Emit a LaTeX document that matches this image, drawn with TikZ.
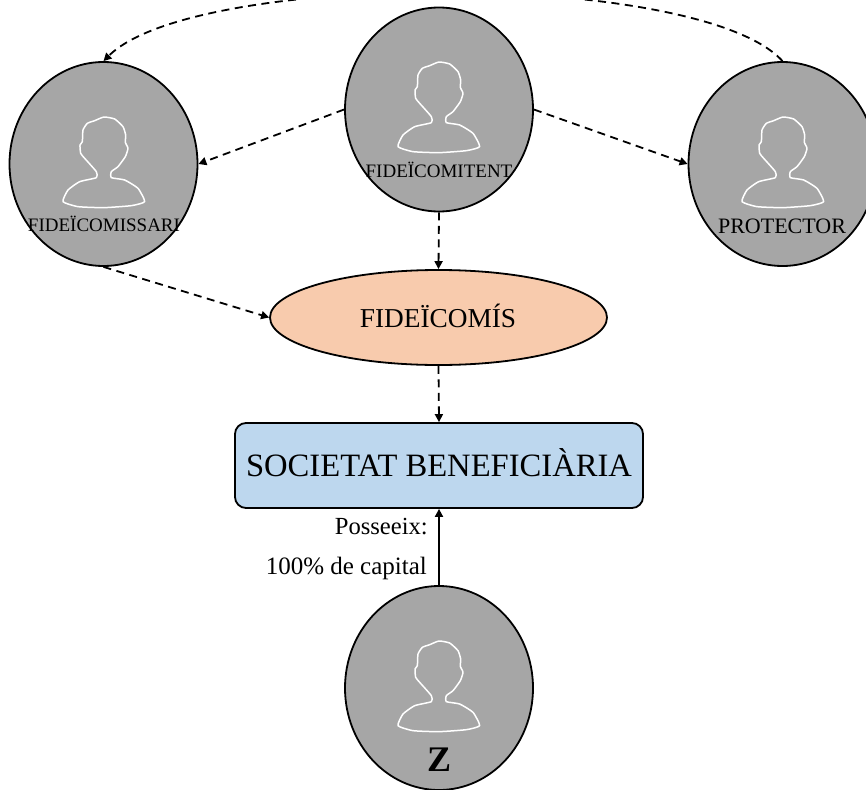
\documentclass[tikz,border=0pt]{standalone}
\usepackage{fontspec}
\setmainfont{Liberation Serif}
\usetikzlibrary{shapes.geometric,arrows.meta}
\definecolor{persongray}{HTML}{A6A6A6}
\definecolor{trustorange}{HTML}{F8CBAD}
\definecolor{boxblue}{HTML}{BDD7EE}
\tikzset{
  x=1pt,y=-1pt,
  personcircle/.style={ellipse,draw=black,line width=1.8pt,fill=persongray,minimum width=188pt,minimum height=204pt,inner sep=0pt},
  trustshape/.style={ellipse,draw=black,line width=1.8pt,fill=trustorange,minimum width=337pt,minimum height=95pt,inner sep=0pt},
  companybox/.style={rectangle,rounded corners=11pt,draw=black,line width=1.8pt,fill=boxblue,minimum width=408pt,minimum height=85pt,inner sep=0pt},
  dashlink/.style={-{Triangle[length=8pt,width=8pt]},line width=1.8pt,dash pattern=on 8pt off 5.5pt},
  solidlink/.style={-{Triangle[length=8pt,width=8pt]},line width=1.8pt},
  personlabel/.style={inner sep=0pt,text=black},
  pics/personicon/.style={code={
    \draw[white,line width=1.5pt,line join=round,x=0.3333pt,y=-0.3333pt]
      plot[smooth cycle,tension=.3] coordinates {(-23,182)(-23,164)(-58,124)(-70,109)(-72,84)(-65,74)(-63,39)(-50,19)(-28,11)(0,0)(32,6)(57,29)(65,54)(64,76)(72,94)(64,119)(42,149)(22,164)(22,182)(62,189)(102,214)(122,254)(82,266)(0,272)(-78,269)(-123,254)(-108,219)(-73,194)};
  }}
}
\begin{document}
\begin{tikzpicture}
\useasboundingbox (0,0) rectangle (866,789);
\clip (0,0) rectangle (866,789);
\node[personcircle] (settlor) at (439,109.5) {};
\node[personcircle] (benef) at (103.5,164) {};
\node[personcircle] (protector) at (782.5,164) {};
\node[personcircle] (owner) at (439,688) {};
\node[trustshape] (trust) at (438.5,317.5) {};
\node[companybox] (company) at (439,465.5) {};
\pic at (439,62) {personicon};
\pic at (104,117) {personicon};
\pic at (783,117) {personicon};
\pic at (439,641) {personicon};
\node[personlabel,font=\fontsize{19}{19}\selectfont] (settlorlabel) at (439,170) {FIDEÏCOMITENT};
\node[personlabel,font=\fontsize{19}{19}\selectfont] (beneflabel) at (104,224) {FIDEÏCOMISSARI};
\node[personlabel,font=\fontsize{22}{22}\selectfont] (protectorlabel) at (782,226) {PROTECTOR};
\node[personlabel,font=\fontsize{36}{36}\selectfont\bfseries] (ownerlabel) at (439,760) {Z};
\node[personlabel,font=\fontsize{27.3}{27}\selectfont] (trustlabel) at (438,316) {FIDEÏCOMÍS};
\node[personlabel,font=\fontsize{32.6}{33}\selectfont] (companylabel) at (439,463) {SOCIETAT BENEFICIÀRIA};
\node[personlabel,anchor=east,font=\fontsize{24.6}{25}\selectfont] (holds) at (428,527) {Posseeix:};
\node[personlabel,anchor=east,font=\fontsize{25}{25}\selectfont] (capital) at (427,568) {100\% de capital};
\draw[dashlink] (protector.north) .. controls (700,-30) and (195,-30) .. (benef.north);
\draw[dashlink] (settlor.west) -- (benef.east);
\draw[dashlink] (settlor.east) -- (protector.west);
\draw[dashlink] (settlor.south) -- (trust.north);
\draw[dashlink] (benef.south) -- (trust.west);
\draw[dashlink] (trust.south) -- (company.north);
\draw[solidlink] (owner.north) -- (company.south);
\end{tikzpicture}
\end{document}
